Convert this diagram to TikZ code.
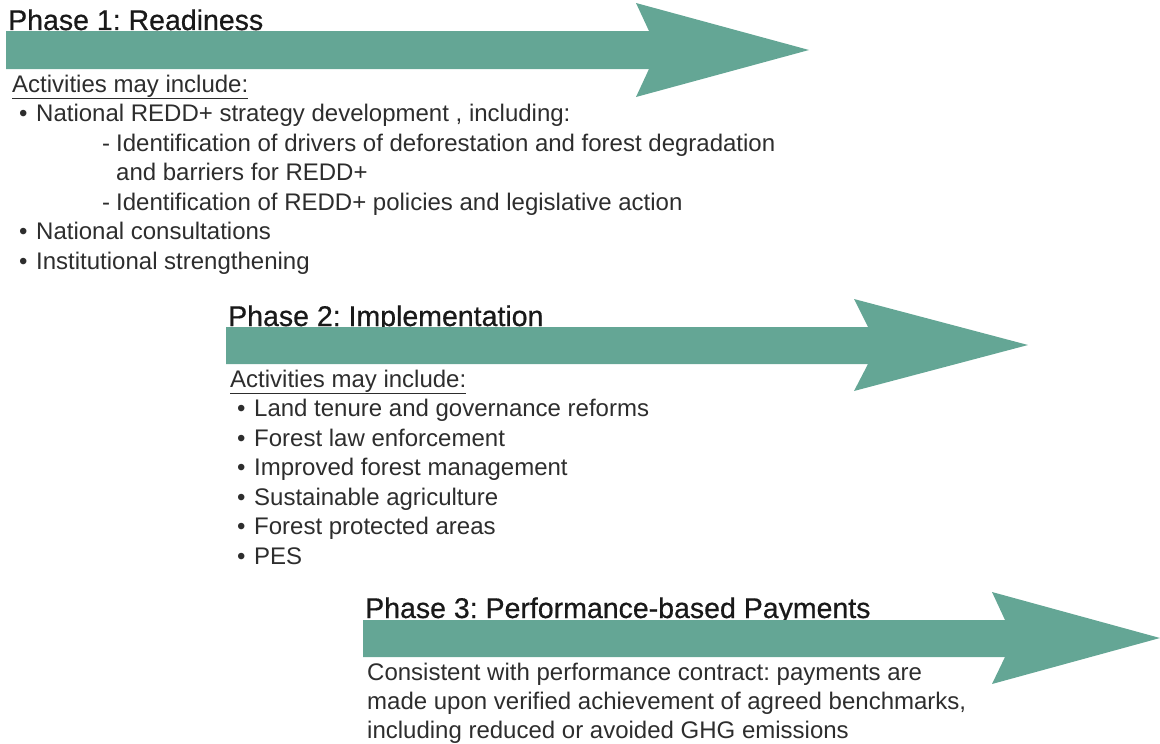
\documentclass[tikz,border=0pt]{standalone}
\usepackage{fontspec}
\setmainfont{Liberation Sans}
\newfontfamily\headfont[FakeBold=0.6]{Liberation Sans}
\frenchspacing
\definecolor{arrowgreen}{RGB}{100,166,149}
\definecolor{headtext}{RGB}{25,25,25}
\definecolor{bodytext}{RGB}{45,45,45}
\tikzset{
  bigarrow/.style={fill=arrowgreen, draw=none},
  heading/.style={anchor=base west, inner sep=0pt, text=headtext, font=\headfont\fontsize{28.5}{32}\selectfont},
  body/.style={anchor=base west, inner sep=0pt, text=bodytext, font=\fontsize{24}{29}\selectfont},
  bul/.style={anchor=base west, inner sep=0pt, text=bodytext, font=\fontsize{24}{29}\selectfont}
}
\begin{document}
\begin{tikzpicture}[x=1pt,y=-1pt]
\useasboundingbox (0,0) rectangle (1160,744);
% ---------- Phase 1 ----------
\node[heading] (h1) at (8,30) {Phase 1: Readiness};
\fill[bigarrow] (6,31) -- (649,31) -- (636,3) -- (809,50) -- (636,97) -- (649,69) -- (6,69) -- cycle;
\node[body] (a1) at (12,92) {\underline{Activities may include:}};
\node[bul] (b11) at (19,121.5) {•};
\node[body] (t11) at (36,121.5) {National REDD+ strategy development , including:};
\node[body] (d11) at (102,151) {-};
\node[body] (t12) at (116,151) {Identification of drivers of deforestation and forest degradation};
\node[body] (t13) at (116,180.5) {and barriers for REDD+};
\node[body] (d12) at (102,210) {-};
\node[body] (t14) at (116,210) {Identification of REDD+ policies and legislative action};
\node[bul] (b12) at (19,239.5) {•};
\node[body] (t15) at (36,239.5) {National consultations};
\node[bul] (b13) at (19,269) {•};
\node[body] (t16) at (36,269) {Institutional strengthening};
% ---------- Phase 2 ----------
\node[heading] (h2) at (228,326) {Phase 2: Implementation};
\fill[bigarrow] (226,327) -- (868,327) -- (854,299) -- (1028,345) -- (854,391) -- (868,364) -- (226,364) -- cycle;
\node[body] (a2) at (230,387) {\underline{Activities may include:}};
\node[bul] (b21) at (237,416.5) {•};
\node[body] (t21) at (254,416.5) {Land tenure and governance reforms};
\node[bul] (b22) at (237,446) {•};
\node[body] (t22) at (254,446) {Forest law enforcement};
\node[bul] (b23) at (237,475.5) {•};
\node[body] (t23) at (254,475.5) {Improved forest management};
\node[bul] (b24) at (237,505) {•};
\node[body] (t24) at (254,505) {Sustainable agriculture};
\node[bul] (b25) at (237,534.5) {•};
\node[body] (t25) at (254,534.5) {Forest protected areas};
\node[bul] (b26) at (237,564) {•};
\node[body] (t26) at (254,564) {PES};
% ---------- Phase 3 ----------
\node[heading] (h3) at (365,618) {Phase 3: Performance-based Payments};
\fill[bigarrow] (363,620) -- (1005,620) -- (992,592) -- (1160,638) -- (992,684) -- (1005,657) -- (363,657) -- cycle;
\node[body] (t31) at (367,680) {Consistent with performance contract: payments are};
\node[body] (t32) at (367,709) {made upon verified achievement of agreed benchmarks,};
\node[body] (t33) at (367,738) {including reduced or avoided GHG emissions};
\end{tikzpicture}
\end{document}
